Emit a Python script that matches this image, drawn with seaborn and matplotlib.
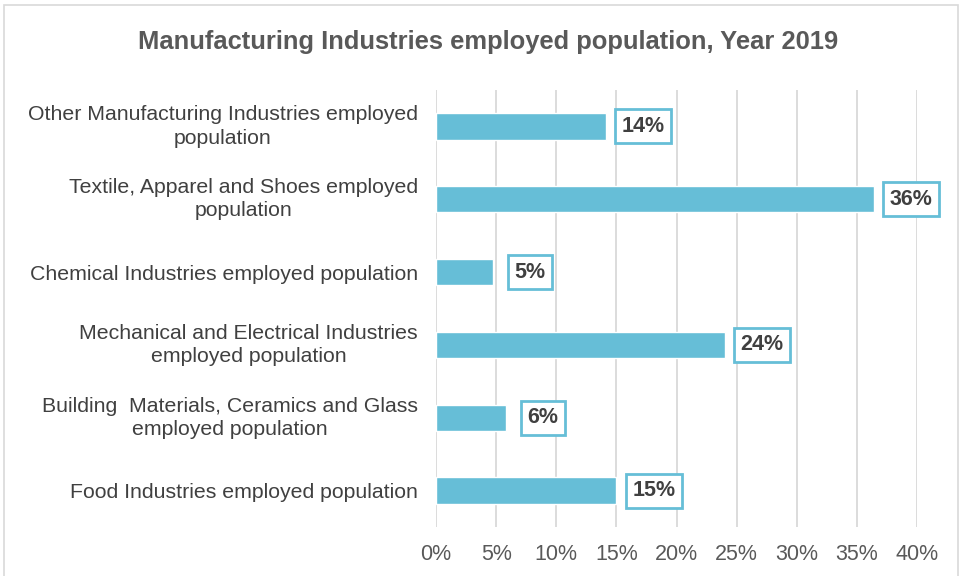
import matplotlib
matplotlib.use("Agg")
import matplotlib.pyplot as plt
import seaborn as sns
import pandas as pd
from matplotlib.patches import Rectangle
from matplotlib.ticker import FuncFormatter

categories = [
    "Other Manufacturing Industries employed\npopulation",
    "Textile, Apparel and Shoes employed\npopulation",
    "Chemical Industries employed population",
    "Mechanical and Electrical Industries\nemployed population",
    "Building  Materials, Ceramics and Glass\nemployed population",
    "Food Industries employed population",
]
shares = [14.1, 36.4, 4.7, 24.0, 5.8, 15.0]
x_ticks = [0, 5, 10, 15, 20, 25, 30, 35, 40]

bar_color = "#66BED7"
text_gray = "#595959"
label_dark = "#404040"

sns.set_theme(style="white")
plt.rcParams["font.family"] = ["Liberation Sans", "DejaVu Sans"]

df = pd.DataFrame({"category": categories, "share": shares})

fig = plt.figure(figsize=(9.6, 5.76), dpi=100)
ax = fig.add_axes([436 / 960, 1 - 527 / 576, (917 - 436) / 960, (527 - 90) / 576])

sns.barplot(data=df, y="category", x="share", orient="h", color=bar_color,
            saturation=1, width=0.36, ax=ax, zorder=3)

ax.set_xlim(0, 40)
ax.set_xticks(x_ticks)
ax.xaxis.set_major_formatter(FuncFormatter(lambda v, _: f"{v:.0f}%"))
ax.grid(axis="x", color="#D9D9D9", linewidth=1.3, zorder=0)
ax.set_axisbelow(True)
for s in ax.spines.values():
    s.set_visible(False)
ax.set_xlabel("")
ax.set_ylabel("")
ax.tick_params(axis="x", length=0, pad=12, labelsize=15.5, labelcolor=text_gray)
ax.tick_params(axis="y", length=0, pad=13, labelsize=15.3, labelcolor=label_dark)
for t in ax.get_yticklabels():
    t.set_horizontalalignment("right")
    t.set_multialignment("center")
    t.set_linespacing(1.3)
    if "\n" in t.get_text():
        t.set_verticalalignment("center")

for i, v in enumerate(shares):
    ax.annotate(f"{v:.0f}%", xy=(v, i), xytext=(8 + 29.5, 0), textcoords="offset pixels",
                ha="center", va="center", fontsize=15.5, fontweight="bold",
                color=label_dark, zorder=5,
                bbox=dict(boxstyle="square,pad=0.3", fc="white", ec=bar_color, lw=2))

fig.text(488 / 960, 1 - 42 / 576, "Manufacturing Industries employed population, Year 2019",
         ha="center", va="center", fontsize=18.4, fontweight="bold", color=text_gray)

fig.patches.append(Rectangle((4 / 960, -0.05), (958 - 4) / 960, 1.05 - 5 / 576,
                             transform=fig.transFigure, fill=False,
                             ec="#D9D9D9", lw=1.2))

fig.savefig("out.png", dpi=100, facecolor="white")
